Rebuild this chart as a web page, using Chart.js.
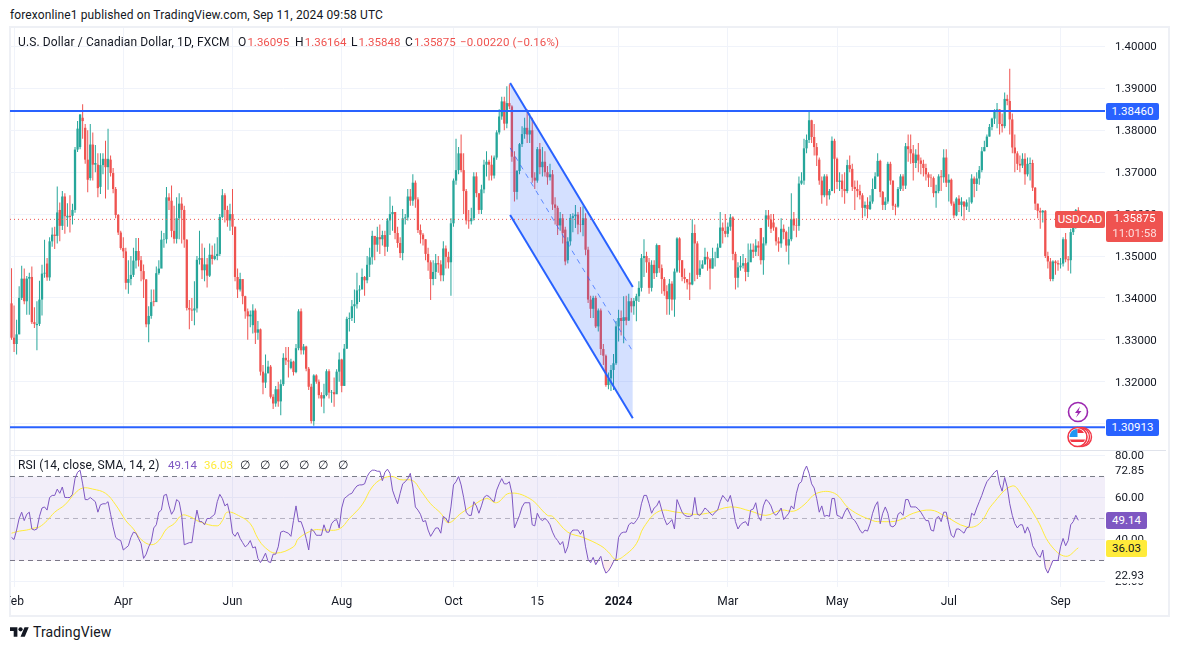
<!DOCTYPE html>
<html>
<head>
<meta charset="utf-8">
<title>USDCAD 1D</title>
<script src="https://cdn.jsdelivr.net/npm/chart.js@4/dist/chart.umd.min.js"></script>
<style>
  html, body { margin: 0; padding: 0; background: #fff; }
  body { width: 1177px; height: 650px; position: relative; overflow: hidden; font-family: Roboto, sans-serif; font-size: 12px; color: #131722; }
  canvas { position: absolute; left: 10px; }
  #priceChart { top: 28px; }
  #rsiChart { top: 451px; }
  .txt { position: absolute; white-space: nowrap; line-height: 14px; letter-spacing: 0.12px; }
  .num { font-size: 11.5px; letter-spacing: 0; }
  .red { color: #ef5350; }
  .ohlc { margin-left: 1px; }
  .tag { position: absolute; text-align: center; color: #fff; border-radius: 2px; line-height: 17px; font-size: 11.5px; }
  #frame { position: absolute; left: 9px; top: 26px; width: 1157px; height: 587px; border: 2px solid #eef0f5; }
  #divider { position: absolute; left: 10px; top: 450px; width: 1156px; height: 1px; background: #e0e3eb; }
  #axisMask { position: absolute; left: 1106px; top: 586px; width: 58px; height: 5px; background: #fff; }
  svg { position: absolute; }
</style>
</head>
<body>
<div id="frame"></div>
<canvas id="priceChart" width="1158" height="422"></canvas>
<canvas id="rsiChart" width="1158" height="162"></canvas>
<div id="divider"></div>
<div id="axisMask"></div>

<div class="txt" style="left:10px;top:8px">forexonline1 published on TradingView.com, Sep 11, 2024 09:58 UTC</div>
<div class="txt" style="left:18px;top:35px">U.S. Dollar / Canadian Dollar, 1D, FXCM</div>
<div class="txt" style="left:238px;top:35px">O<span class="red num ohlc">1.36095</span></div>
<div class="txt" style="left:295px;top:35px">H<span class="red num ohlc">1.36164</span></div>
<div class="txt" style="left:351px;top:35px">L<span class="red num ohlc">1.35848</span></div>
<div class="txt" style="left:405px;top:35px">C<span class="red num ohlc">1.35875</span></div>
<div class="txt red num" style="left:460px;top:35px;letter-spacing:.15px">−0.00220 (−0.16%)</div>

<div class="txt" style="left:18px;top:458px">RSI (14, close, SMA, 14, 2)</div>
<div class="txt num" style="left:168px;top:458px;color:#7e57c2">49.14</div>
<div class="txt num" style="left:204px;top:458px;color:#ffeb3b">36.03</div>
<div class="txt" style="left:240px;top:458px">∅</div>
<div class="txt" style="left:260px;top:458px">∅</div>
<div class="txt" style="left:279px;top:458px">∅</div>
<div class="txt" style="left:299px;top:458px">∅</div>
<div class="txt" style="left:318px;top:458px">∅</div>
<div class="txt" style="left:338px;top:458px">∅</div>

<div class="tag" style="left:1106px;top:103px;width:53px;background:#2962ff">1.38460</div>
<div class="tag" style="left:1106px;top:419px;width:53px;background:#2962ff">1.30913</div>
<div class="tag" style="left:1055px;top:211px;width:50px;background:#ef5350">USDCAD</div>
<div class="tag" style="left:1106px;top:211px;width:57px;height:31px;background:#ef5350;line-height:15px">1.35875<br><span style="color:rgba(255,255,255,.8)">11:01:58</span></div>
<div class="tag" style="left:1106px;top:512px;width:41px;background:#7e57c2">49.14</div>
<div class="tag" style="left:1106px;top:540px;width:41px;background:#ffeb3b;color:#131722">36.03</div>

<!-- event markers on the price pane -->
<svg style="left:1066px;top:400px" width="24" height="24" viewBox="0 0 24 24">
  <circle cx="12" cy="12" r="9.5" fill="#fff" stroke="#9c27b0" stroke-width="1.6"/>
  <path d="M14 6.5 L9 13 h3 l-2 4.5 L15.5 11 h-3 z" fill="#9c27b0"/>
</svg>
<svg style="left:1066px;top:425px" width="28" height="24" viewBox="0 0 28 24">
  <circle cx="16" cy="12" r="9.5" fill="#fff" stroke="#f23645" stroke-width="1.4"/>
  <circle cx="14" cy="12" r="9.5" fill="#fff" stroke="#f23645" stroke-width="1.4"/>
  <circle cx="11.5" cy="12" r="9.5" fill="#fff" stroke="#f23645" stroke-width="1.6"/>
  <path d="M4.5 8 A8 8 0 0 1 11.5 4 V12 H3.5 A8 8 0 0 1 4.5 8z" fill="#2196f3"/>
  <path d="M11.5 4 A8 8 0 0 1 18 8 H11.5z M3.8 14.5 H19.2 A8 8 0 0 1 17.5 17 H5.5 A8 8 0 0 1 3.8 14.5z" fill="#f23645"/>
</svg>

<!-- TradingView mark -->
<svg style="left:10px;top:627px" width="19" height="10" viewBox="0 4 36 18">
  <path d="M14 22H7V11H0V4h14v18zM28 22h-8l7.5-18h8L28 22z" fill="#131722"/>
  <circle cx="20" cy="8" r="4" fill="#131722"/>
</svg>
<div class="txt" style="left:33px;top:625px;font-size:14px">TradingView</div>

<script>
// ----------- PRICE DATA (one entry per daily bar) -----------
const opens = [
1.3387,1.3305,1.3290,1.3313,1.3400,1.3446,1.3392,1.3446,1.3450,1.3342,
1.3335,1.3338,1.3396,1.3458,1.3482,1.3449,1.3535,1.3551,1.3548,1.3610,
1.3572,1.3642,1.3592,1.3596,1.3596,1.3610,1.3754,1.3760,1.3830,1.3806,
1.3730,1.3686,1.3766,1.3718,1.3718,1.3665,1.3717,1.3732,1.3712,1.3730,
1.3698,1.3660,1.3598,1.3556,1.3519,1.3511,1.3436,1.3445,1.3455,1.3489,
1.3512,1.3490,1.3464,1.3444,1.3337,1.3357,1.3392,1.3390,1.3459,1.3470,
1.3539,1.3540,1.3640,1.3632,1.3560,1.3541,1.3590,1.3625,1.3610,1.3539,
1.3376,1.3372,1.3370,1.3375,1.3491,1.3495,1.3466,1.3480,1.3453,1.3503,
1.3493,1.3500,1.3505,1.3593,1.3645,1.3610,1.3585,1.3600,1.3570,1.3450,
1.3420,1.3445,1.3404,1.3368,1.3356,1.3335,1.3370,1.3317,1.3325,1.3224,
1.3198,1.3220,1.3236,1.3164,1.3148,1.3182,1.3153,1.3194,1.3257,1.3251,
1.3233,1.3248,1.3223,1.3280,1.3368,1.3275,1.3284,1.3231,1.3188,1.3106,
1.3215,1.3200,1.3168,1.3160,1.3168,1.3225,1.3174,1.3175,1.3170,1.3224,
1.3253,1.3190,1.3279,1.3350,1.3352,1.3380,1.3385,1.3418,1.3420,1.3450,
1.3442,1.3479,1.3497,1.3548,1.3527,1.3545,1.3540,1.3550,1.3522,1.3585,
1.3600,1.3605,1.3555,1.3531,1.3507,1.3590,1.3592,1.3642,1.3632,1.3675,
1.3635,1.3562,1.3551,1.3540,1.3505,1.3485,1.3445,1.3462,1.3483,1.3480,
1.3454,1.3518,1.3498,1.3485,1.3578,1.3680,1.3705,1.3745,1.3705,1.3655,
1.3585,1.3583,1.3590,1.3690,1.3650,1.3610,1.3659,1.3718,1.3725,1.3718,
1.3692,1.3735,1.3795,1.3833,1.3869,1.3816,1.3865,1.3857,1.3737,1.3653,
1.3703,1.3767,1.3791,1.3806,1.3790,1.3800,1.3687,1.3680,1.3755,1.3712,
1.3725,1.3700,1.3688,1.3695,1.3623,1.3615,1.3573,1.3590,1.3563,1.3490,
1.3535,1.3591,1.3595,1.3599,1.3575,1.3574,1.3590,1.3515,1.3396,1.3374,
1.3400,1.3332,1.3370,1.3278,1.3262,1.3192,1.3208,1.3228,1.3244,1.3332,
1.3352,1.3345,1.3354,1.3346,1.3392,1.3380,1.3393,1.3404,1.3424,1.3495,
1.3500,1.3485,1.3424,1.3479,1.3459,1.3526,1.3471,1.3445,1.3416,1.3397,
1.3434,1.3396,1.3463,1.3542,1.3490,1.3450,1.3445,1.3437,1.3432,1.3555,
1.3530,1.3455,1.3470,1.3480,1.3498,1.3492,1.3470,1.3495,1.3495,1.3520,
1.3568,1.3560,1.3553,1.3570,1.3592,1.3505,1.3448,1.3473,1.3477,1.3483,
1.3462,1.3485,1.3515,1.3510,1.3525,1.3567,1.3490,1.3530,1.3597,1.3587,
1.3580,1.3568,1.3535,1.3530,1.3565,1.3557,1.3525,1.3540,1.3589,1.3573,
1.3572,1.3673,1.3680,1.3757,1.3777,1.3824,1.3784,1.3760,1.3730,1.3680,
1.3645,1.3690,1.3645,1.3655,1.3775,1.3732,1.3677,1.3680,1.3660,1.3655,
1.3717,1.3708,1.3665,1.3660,1.3655,1.3645,1.3615,1.3622,1.3612,1.3630,
1.3660,1.3690,1.3727,1.3653,1.3622,1.3630,1.3720,1.3680,1.3620,1.3618,
1.3660,1.3690,1.3668,1.3762,1.3755,1.3745,1.3722,1.3742,1.3728,1.3720,
1.3710,1.3695,1.3687,1.3686,1.3650,1.3655,1.3690,1.3688,1.3735,1.3675,
1.3682,1.3625,1.3597,1.3637,1.3622,1.3630,1.3618,1.3628,1.3628,1.3685,
1.3672,1.3685,1.3705,1.3750,1.3760,1.3785,1.3808,1.3828,1.3845,1.3850,
1.3815,1.3810,1.3875,1.3870,1.3826,1.3759,1.3745,1.3720,1.3716,1.3732,
1.3695,1.3720,1.3722,1.3663,1.3625,1.3608,1.3604,1.3608,1.3500,1.3487,
1.3445,1.3487,1.3483,1.3480,1.3482,1.3540,1.3492,1.3490,1.3557,1.3570,
1.36095];
const highs = [
1.3471,1.3382,1.3348,1.3428,1.3477,1.3470,1.3452,1.3460,1.3475,1.3378,
1.3392,1.3441,1.3479,1.3539,1.3495,1.3545,1.3568,1.3570,1.3666,1.3628,
1.3655,1.3650,1.3626,1.3645,1.3625,1.3760,1.3822,1.3838,1.3862,1.3815,
1.3800,1.3815,1.3795,1.3765,1.3745,1.3745,1.3745,1.3775,1.3804,1.3740,
1.3710,1.3665,1.3600,1.3560,1.3545,1.3520,1.3490,1.3500,1.3520,1.3543,
1.3543,1.3500,1.3480,1.3445,1.3380,1.3420,1.3420,1.3475,1.3490,1.3560,
1.3555,1.3665,1.3650,1.3668,1.3620,1.3640,1.3650,1.3640,1.3620,1.3540,
1.3395,1.3400,1.3440,1.3500,1.3560,1.3530,1.3520,1.3495,1.3530,1.3525,
1.3530,1.3545,1.3600,1.3660,1.3650,1.3620,1.3625,1.3660,1.3570,1.3470,
1.3460,1.3430,1.3405,1.3375,1.3370,1.3385,1.3375,1.3345,1.3327,1.3240,
1.3265,1.3250,1.3240,1.3170,1.3190,1.3200,1.3205,1.3268,1.3283,1.3283,
1.3255,1.3250,1.3290,1.3373,1.3375,1.3290,1.3286,1.3235,1.3195,1.3218,
1.3218,1.3205,1.3175,1.3195,1.3230,1.3230,1.3180,1.3210,1.3230,1.3270,
1.3255,1.3290,1.3355,1.3365,1.3395,1.3420,1.3460,1.3430,1.3470,1.3452,
1.3500,1.3520,1.3560,1.3548,1.3570,1.3575,1.3560,1.3560,1.3590,1.3642,
1.3620,1.3605,1.3570,1.3545,1.3612,1.3600,1.3660,1.3660,1.3695,1.3680,
1.3640,1.3575,1.3555,1.3540,1.3520,1.3490,1.3490,1.3505,1.3500,1.3490,
1.3535,1.3525,1.3510,1.3590,1.3685,1.3780,1.3760,1.3790,1.3745,1.3660,
1.3610,1.3615,1.3700,1.3700,1.3640,1.3670,1.3730,1.3750,1.3730,1.3740,
1.3740,1.3800,1.3850,1.3880,1.3880,1.3905,1.3910,1.3860,1.3750,1.3705,
1.3770,1.3810,1.3830,1.3850,1.3840,1.3830,1.3700,1.3760,1.3770,1.3760,
1.3750,1.3715,1.3720,1.3705,1.3640,1.3620,1.3605,1.3600,1.3570,1.3545,
1.3600,1.3602,1.3622,1.3605,1.3617,1.3619,1.3602,1.3522,1.3405,1.3405,
1.3405,1.3375,1.3375,1.3290,1.3265,1.3222,1.3240,1.3266,1.3345,1.3372,
1.3370,1.3404,1.3405,1.3410,1.3400,1.3400,1.3410,1.3440,1.3505,1.3540,
1.3510,1.3495,1.3490,1.3490,1.3530,1.3526,1.3480,1.3450,1.3430,1.3445,
1.3440,1.3470,1.3545,1.3545,1.3490,1.3470,1.3445,1.3460,1.3588,1.3575,
1.3535,1.3490,1.3490,1.3520,1.3510,1.3495,1.3520,1.3510,1.3530,1.3605,
1.3580,1.3600,1.3580,1.3600,1.3595,1.3510,1.3485,1.3500,1.3505,1.3495,
1.3530,1.3530,1.3530,1.3540,1.3535,1.3567,1.3545,1.3610,1.3610,1.3600,
1.3600,1.3570,1.3545,1.3590,1.3575,1.3560,1.3570,1.3650,1.3605,1.3590,
1.3690,1.3700,1.3780,1.3790,1.3846,1.3825,1.3815,1.3770,1.3735,1.3690,
1.3695,1.3695,1.3660,1.3785,1.3780,1.3735,1.3700,1.3695,1.3700,1.3730,
1.3740,1.3720,1.3680,1.3680,1.3670,1.3650,1.3630,1.3640,1.3645,1.3685,
1.3700,1.3745,1.3730,1.3655,1.3640,1.3725,1.3725,1.3680,1.3625,1.3665,
1.3695,1.3695,1.3770,1.3790,1.3790,1.3765,1.3755,1.3770,1.3735,1.3730,
1.3720,1.3700,1.3695,1.3690,1.3670,1.3695,1.3705,1.3755,1.3755,1.3695,
1.3685,1.3630,1.3640,1.3645,1.3640,1.3630,1.3635,1.3640,1.3695,1.3690,
1.3700,1.3715,1.3760,1.3775,1.3790,1.3815,1.3830,1.3850,1.3865,1.3850,
1.3840,1.3890,1.3885,1.3947,1.3840,1.3790,1.3750,1.3740,1.3745,1.3745,
1.3735,1.3735,1.3730,1.3665,1.3625,1.3615,1.3610,1.3610,1.3510,1.3495,
1.3490,1.3490,1.3490,1.3495,1.3545,1.3555,1.3500,1.3565,1.3600,1.3612,
1.36164];
const lows = [
1.3300,1.3271,1.3265,1.3313,1.3395,1.3385,1.3360,1.3360,1.3338,1.3328,
1.3275,1.3333,1.3358,1.3448,1.3441,1.3441,1.3522,1.3517,1.3530,1.3535,
1.3562,1.3553,1.3570,1.3556,1.3575,1.3603,1.3748,1.3755,1.3780,1.3720,
1.3652,1.3680,1.3680,1.3700,1.3640,1.3648,1.3695,1.3637,1.3658,1.3690,
1.3650,1.3590,1.3550,1.3515,1.3495,1.3420,1.3410,1.3430,1.3450,1.3470,
1.3475,1.3440,1.3400,1.3330,1.3294,1.3350,1.3380,1.3390,1.3455,1.3480,
1.3520,1.3530,1.3610,1.3545,1.3530,1.3530,1.3540,1.3530,1.3520,1.3370,
1.3325,1.3345,1.3335,1.3365,1.3480,1.3445,1.3440,1.3425,1.3450,1.3480,
1.3490,1.3490,1.3500,1.3590,1.3580,1.3570,1.3560,1.3550,1.3440,1.3400,
1.3415,1.3385,1.3350,1.3300,1.3330,1.3315,1.3290,1.3300,1.3215,1.3170,
1.3185,1.3220,1.3160,1.3135,1.3140,1.3140,1.3120,1.3190,1.3240,1.3210,
1.3230,1.3215,1.3220,1.3275,1.3265,1.3265,1.3225,1.3180,1.3100,1.3095,
1.3195,1.3160,1.3140,1.3125,1.3165,1.3160,1.3150,1.3140,1.3175,1.3200,
1.3175,1.3190,1.3278,1.3320,1.3345,1.3340,1.3375,1.3390,1.3425,1.3405,
1.3435,1.3450,1.3480,1.3490,1.3510,1.3505,1.3525,1.3500,1.3510,1.3550,
1.3560,1.3540,1.3520,1.3495,1.3490,1.3575,1.3585,1.3620,1.3620,1.3615,
1.3555,1.3530,1.3525,1.3490,1.3465,1.3395,1.3430,1.3445,1.3460,1.3440,
1.3440,1.3470,1.3470,1.3405,1.3570,1.3670,1.3695,1.3700,1.3600,1.3575,
1.3565,1.3575,1.3585,1.3640,1.3600,1.3600,1.3650,1.3690,1.3680,1.3680,
1.3685,1.3730,1.3790,1.3825,1.3800,1.3805,1.3850,1.3725,1.3630,1.3635,
1.3695,1.3760,1.3780,1.3770,1.3770,1.3675,1.3660,1.3675,1.3695,1.3690,
1.3690,1.3670,1.3680,1.3610,1.3575,1.3550,1.3560,1.3530,1.3478,1.3482,
1.3525,1.3557,1.3567,1.3552,1.3557,1.3547,1.3502,1.3388,1.3352,1.3352,
1.3328,1.3320,1.3264,1.3240,1.3188,1.3182,1.3178,1.3180,1.3240,1.3296,
1.3310,1.3292,1.3335,1.3345,1.3365,1.3360,1.3344,1.3390,1.3415,1.3450,
1.3460,1.3410,1.3415,1.3445,1.3450,1.3460,1.3410,1.3405,1.3360,1.3360,
1.3370,1.3355,1.3460,1.3460,1.3440,1.3435,1.3420,1.3395,1.3430,1.3440,
1.3445,1.3450,1.3470,1.3480,1.3465,1.3420,1.3470,1.3475,1.3505,1.3520,
1.3530,1.3545,1.3545,1.3560,1.3490,1.3420,1.3425,1.3465,1.3470,1.3440,
1.3450,1.3490,1.3495,1.3500,1.3500,1.3480,1.3455,1.3525,1.3570,1.3555,
1.3560,1.3525,1.3510,1.3520,1.3540,1.3510,1.3480,1.3535,1.3560,1.3545,
1.3560,1.3670,1.3670,1.3745,1.3770,1.3770,1.3740,1.3715,1.3670,1.3625,
1.3640,1.3620,1.3635,1.3655,1.3650,1.3660,1.3655,1.3640,1.3625,1.3650,
1.3700,1.3655,1.3610,1.3640,1.3635,1.3590,1.3595,1.3590,1.3610,1.3625,
1.3660,1.3690,1.3640,1.3610,1.3610,1.3625,1.3670,1.3610,1.3597,1.3615,
1.3655,1.3655,1.3660,1.3725,1.3720,1.3680,1.3710,1.3700,1.3695,1.3690,
1.3680,1.3665,1.3665,1.3640,1.3615,1.3650,1.3655,1.3675,1.3665,1.3630,
1.3620,1.3590,1.3595,1.3605,1.3595,1.3585,1.3610,1.3605,1.3625,1.3640,
1.3655,1.3670,1.3700,1.3750,1.3760,1.3785,1.3800,1.3815,1.3805,1.3790,
1.3795,1.3805,1.3860,1.3790,1.3745,1.3700,1.3705,1.3700,1.3710,1.3670,
1.3690,1.3680,1.3655,1.3610,1.3590,1.3565,1.3580,1.3495,1.3470,1.3440,
1.3440,1.3455,1.3465,1.3470,1.3475,1.3485,1.3465,1.3458,1.3550,1.3565,
1.35848];
const closes = [
1.3305,1.3290,1.3313,1.3400,1.3446,1.3392,1.3446,1.3450,1.3342,1.3338,
1.3338,1.3396,1.3458,1.3460,1.3449,1.3535,1.3551,1.3548,1.3604,1.3572,
1.3642,1.3595,1.3596,1.3593,1.3610,1.3754,1.3804,1.3838,1.3822,1.3730,
1.3682,1.3766,1.3718,1.3722,1.3662,1.3717,1.3732,1.3712,1.3732,1.3698,
1.3660,1.3598,1.3556,1.3519,1.3511,1.3436,1.3445,1.3455,1.3489,1.3512,
1.3490,1.3464,1.3444,1.3337,1.3357,1.3390,1.3390,1.3459,1.3470,1.3539,
1.3540,1.3640,1.3632,1.3560,1.3541,1.3590,1.3625,1.3610,1.3539,1.3376,
1.3372,1.3370,1.3375,1.3491,1.3495,1.3466,1.3480,1.3453,1.3503,1.3493,
1.3500,1.3505,1.3593,1.3645,1.3610,1.3585,1.3600,1.3570,1.3450,1.3420,
1.3445,1.3404,1.3368,1.3356,1.3360,1.3370,1.3317,1.3325,1.3224,1.3198,
1.3220,1.3236,1.3164,1.3148,1.3182,1.3153,1.3194,1.3257,1.3251,1.3248,
1.3248,1.3223,1.3280,1.3368,1.3275,1.3284,1.3231,1.3188,1.3106,1.3215,
1.3200,1.3168,1.3160,1.3168,1.3225,1.3174,1.3175,1.3170,1.3224,1.3253,
1.3190,1.3279,1.3350,1.3352,1.3380,1.3385,1.3418,1.3420,1.3450,1.3442,
1.3479,1.3497,1.3548,1.3527,1.3545,1.3540,1.3550,1.3522,1.3585,1.3600,
1.3605,1.3555,1.3531,1.3507,1.3590,1.3592,1.3642,1.3632,1.3675,1.3635,
1.3562,1.3551,1.3540,1.3505,1.3485,1.3445,1.3462,1.3483,1.3480,1.3454,
1.3518,1.3498,1.3485,1.3578,1.3680,1.3705,1.3745,1.3705,1.3655,1.3585,
1.3583,1.3590,1.3690,1.3650,1.3610,1.3659,1.3718,1.3725,1.3718,1.3692,
1.3735,1.3795,1.3833,1.3869,1.3816,1.3865,1.3857,1.3737,1.3653,1.3703,
1.3767,1.3791,1.3806,1.3790,1.3800,1.3687,1.3680,1.3755,1.3712,1.3725,
1.3700,1.3688,1.3695,1.3623,1.3615,1.3573,1.3590,1.3555,1.3487,1.3535,
1.3591,1.3595,1.3599,1.3575,1.3574,1.3590,1.3515,1.3396,1.3374,1.3400,
1.3332,1.3370,1.3278,1.3262,1.3192,1.3208,1.3228,1.3244,1.3332,1.3352,
1.3345,1.3354,1.3346,1.3392,1.3380,1.3393,1.3404,1.3424,1.3495,1.3500,
1.3485,1.3424,1.3479,1.3459,1.3526,1.3471,1.3445,1.3416,1.3397,1.3434,
1.3396,1.3463,1.3542,1.3490,1.3450,1.3445,1.3437,1.3432,1.3555,1.3530,
1.3455,1.3470,1.3480,1.3498,1.3492,1.3470,1.3495,1.3495,1.3520,1.3568,
1.3560,1.3553,1.3570,1.3592,1.3505,1.3448,1.3473,1.3477,1.3483,1.3462,
1.3485,1.3515,1.3510,1.3525,1.3520,1.3490,1.3530,1.3597,1.3587,1.3565,
1.3568,1.3535,1.3530,1.3565,1.3557,1.3525,1.3540,1.3587,1.3573,1.3572,
1.3673,1.3680,1.3757,1.3777,1.3824,1.3784,1.3760,1.3740,1.3680,1.3645,
1.3690,1.3645,1.3655,1.3775,1.3732,1.3677,1.3680,1.3660,1.3655,1.3717,
1.3708,1.3665,1.3660,1.3655,1.3645,1.3615,1.3622,1.3612,1.3630,1.3660,
1.3690,1.3727,1.3653,1.3622,1.3630,1.3720,1.3680,1.3620,1.3618,1.3660,
1.3690,1.3668,1.3762,1.3755,1.3745,1.3722,1.3742,1.3728,1.3720,1.3710,
1.3695,1.3687,1.3686,1.3650,1.3655,1.3690,1.3688,1.3735,1.3675,1.3682,
1.3625,1.3597,1.3637,1.3622,1.3630,1.3618,1.3628,1.3628,1.3685,1.3672,
1.3685,1.3705,1.3750,1.3760,1.3785,1.3808,1.3828,1.3845,1.3850,1.3815,
1.3810,1.3875,1.3870,1.3826,1.3759,1.3745,1.3720,1.3716,1.3732,1.3695,
1.3720,1.3722,1.3663,1.3625,1.3608,1.3604,1.3608,1.3500,1.3487,1.3445,
1.3487,1.3483,1.3480,1.3482,1.3540,1.3492,1.3490,1.3557,1.3570,1.36095,
1.35875];

// ----------- RSI DATA -----------
const rsiValues = [
41,40,44.5,50,53,49,52,53,45,44.5,
45,51,55,55.5,54,60,61,61,64,62,
65,60,60,60,61.5,69,72,73,66.5,59,
59,60,59,58,53,56.5,57,57,58,52,
46,41,40,39.5,35,36,37,41,43.5,43,
40.5,38,31,33,36.5,39,45.5,47,53,54,
61,61.5,56,52,54,59,58,51.5,37.5,38,
38.5,38.5,47,54,48.5,48.5,47,50,50,51,
52,58,61.5,59.5,56,57,52,43,41.5,43.5,
40.5,38.5,36.5,37.5,39.5,36,36.5,31,29,31,
33.5,29.5,29,33,33,36.5,43.5,44,43.5,43,
41.5,49,56,48.5,48.5,45,40.5,35,45,44,
42,42,42,47,43.5,43.5,47.5,49,49.5,45.5,
55,59.5,60.5,61.5,62,64,65.5,66,66,66.5,
70,72,73,73,72.5,72.5,68,72,73.5,71.5,
63.5,60,57,62,66.5,67.5,69,71.5,65,55.5,
54,52,48.5,49,44.5,41.5,43.5,45.5,45.5,43,
51,50,48,55.5,66,67.5,70,66,60,53,
51.5,51.5,58,56,52.5,56,60,61,60.5,59,
58,63.5,66.5,69,66.5,66.5,67.5,62,45.5,48.5,
51.5,55.5,57.5,57.5,57.5,47,46.5,52.5,50,49,
50,49,47,43.5,41,39.5,37.5,39,33.5,36.5,
43,44.5,44.5,44.5,42.5,44.5,36.5,30.5,29,31.5,
28,30,32,27,24,25,27,29.5,31,41,
43,43.5,43.5,47,48,47.5,49,51,57,61,
61,57,52.5,55,56,58.5,54,50,47,48,
49.5,45,59,56,53,51.5,51,51,51.5,60,
52,51.5,53,55,54,52.5,51.5,53,54,58,
61,59.5,58,61,55.5,48.5,45,47,48,48.5,
46.5,54,54.5,57.5,51,49,56,59,58,56,
52.5,51.5,53,55,49.5,51,52.5,56,54.5,62,
66.5,67.5,72.5,75,71.5,66.5,64.5,59.5,53,56,
51,51.5,51,59.5,59.5,51.5,51,50,53,55,
52.5,50,49,47,44.5,43,44.5,44,47.5,52.5,
56,58,47.5,52.5,55.5,52.5,46.5,46,47,52,
53,51.5,59,59,55.5,55.5,55.5,54.5,53,51,
49,49,44.5,44,50,51,48.5,53,53,47,
42,41,45,45,44,43,45.5,46,52.5,51.5,
55,58,61,64.5,67.5,69,70.5,72,73,66.5,
63,69.5,65,57,51.5,47.5,45.5,47,47,43,
46,43,37,35,32.5,31.5,35,26.5,24,27,
30,30,30,36.5,40.5,37,39.5,47,48.5,51.5,
49.14];
const rsiMaBars = [0,3,6,9,11,14,17,21,25,28,32,37,41,45,48,51,55,58,61,64,67,70,74,81,83,85,90,94,97,100,104,111,113,119,123,129,133,138,142,146,150,153,158,161,165,169,172,177,182,187,191,196,204,211,213,219,225,232,235,238,242,246,249,255,262,268,274,283,291,297,303,308,312,317,324,330,339,343,349,355,362,367,376,381,386,394,398,404,409,415,420];
const rsiMaValues = [43,44,44.5,45.5,46,49,53,56.5,62,64.5,64,62,56.5,49,45,40,37.5,39.5,45,47.5,51.5,51,48.5,46.5,49,53,51,47.5,40.5,36,33.5,36.5,40.5,44.5,44.5,45,50,56.5,65,69,70,68.5,68,63.5,57,52.5,48,52.5,56.5,59.5,57.5,62,59.5,51.5,51,43.5,41,37,34,30.5,33,38,46,53.5,53,52,52.5,55.5,53.5,51.5,54,53.5,56.5,62,62,54.5,49,48.5,49,52.5,54,51.5,46,47.5,56.5,65.5,60.5,49,37.5,32,36.03];

// ----------- LEVELS AND AXES -----------
const resistance = 1.3846;
const support = 1.30913;
const lastPrice = 1.35875;
const channelBars = [196.3, 244.6];
const channelTop = [1.3913, 1.3426];
const channelMid = [1.3758, 1.3272];
const channelBottom = [1.3598, 1.3113];
const priceTicks = [1.40, 1.39, 1.38, 1.37, 1.36, 1.35, 1.34, 1.33, 1.32, 1.31];
const rsiTicks = [20, 22.93, 40, 60, 72.85, 80];
const rsiGridless = [22.93, 72.85];
const timeBars = [1, 44, 87, 130, 174, 207, 239, 282, 325, 369, 413];
const timeLabels = ['Feb', 'Apr', 'Jun', 'Aug', 'Oct', '15', '2024', 'Mar', 'May', 'Jul', 'Sep'];
const xMin = -0.6;
const xMax = 430.5;

const UP = '#26a69a';
const DOWN = '#ef5350';
const BLUE = '#2962ff';
const GRID = '#f0f3fa';
const FONT = 'Roboto, sans-serif';

const candleColor = ctx => (closes[ctx.dataIndex] >= opens[ctx.dataIndex] ? UP : DOWN);
const flatLine = (value, extra) => ({
  type: 'line',
  data: [{ x: xMin, y: value }, { x: xMax, y: value }],
  pointRadius: 0,
  ...extra,
});

function xAxis(showLabels) {
  return {
    type: 'linear',
    min: xMin,
    max: xMax,
    offset: false,
    border: { display: false },
    grid: { color: GRID, drawTicks: false, offset: false },
    afterBuildTicks(scale) { scale.ticks = timeBars.map(value => ({ value })); },
    afterFit(scale) {
      scale.paddingLeft = 0;
      scale.paddingRight = 0;
      scale.height = showLabels ? 26 : 0;
    },
    ticks: {
      display: showLabels,
      autoSkip: false,
      maxRotation: 0,
      padding: 8,
      color: '#131722',
      font: ctx => ({ family: FONT, size: 12, weight: ctx.tick && ctx.tick.value === 239 ? 'bold' : 'normal' }),
      callback: value => timeLabels[timeBars.indexOf(value)],
    },
  };
}

function yAxis(min, max, tickValues, format, gridColor) {
  return {
    position: 'right',
    min,
    max,
    border: { display: false },
    grid: { color: gridColor, drawTicks: false },
    afterBuildTicks(scale) { scale.ticks = tickValues.map(value => ({ value })); },
    afterFit(scale) {
      scale.width = 63;
      scale.paddingTop = 0;
      scale.paddingBottom = 0;
    },
    ticks: {
      autoSkip: false,
      padding: 10,
      labelOffset: 1,
      color: '#131722',
      crossAlign: 'near',
      font: { family: FONT, size: 11.5 },
      callback: format,
      showLabelBackdrop: true,
      backdropColor: '#fff',
      backdropPadding: 0,
    },
  };
}

const commonOptions = {
  responsive: false,
  animation: false,
  events: [],
  layout: { padding: 0 },
  plugins: { legend: { display: false }, tooltip: { enabled: false } },
};

// ----------- PRICE PANE -----------
new Chart(document.getElementById('priceChart'), {
  type: 'bar',
  data: {
    datasets: [
      flatLine(lastPrice, { borderColor: DOWN, borderWidth: 1, borderDash: [1, 3], order: 0 }),
      flatLine(resistance, { borderColor: BLUE, borderWidth: 2, order: 0 }),
      flatLine(support, { borderColor: BLUE, borderWidth: 2, order: 0 }),
      {
        type: 'line',
        data: channelBars.map((x, i) => ({ x, y: channelTop[i] })),
        borderColor: BLUE,
        borderWidth: 2,
        pointRadius: 0,
        fill: '+1',
        backgroundColor: 'rgba(41, 98, 255, 0.2)',
        order: 0,
      },
      {
        type: 'line',
        data: channelBars.map((x, i) => ({ x, y: channelBottom[i] })),
        borderColor: BLUE,
        borderWidth: 2,
        pointRadius: 0,
        order: 0,
      },
      {
        type: 'line',
        data: channelBars.map((x, i) => ({ x, y: channelMid[i] })),
        borderColor: 'rgba(41, 98, 255, 0.7)',
        borderWidth: 1,
        borderDash: [5, 5],
        pointRadius: 0,
        order: 0,
      },
      {
        data: closes.map((_, i) => ({ x: i, y: [Math.min(opens[i], closes[i]), Math.max(opens[i], closes[i])] })),
        backgroundColor: candleColor,
        barThickness: 2.3,
        grouped: false,
        inflateAmount: 0,
        order: 1,
      },
      {
        data: closes.map((_, i) => ({ x: i, y: [lows[i], highs[i]] })),
        backgroundColor: candleColor,
        barThickness: 1,
        grouped: false,
        inflateAmount: 0,
        order: 2,
      },
    ],
  },
  options: {
    ...commonOptions,
    scales: {
      x: xAxis(false),
      y: yAxis(1.3037, 1.40442, priceTicks, value => value.toFixed(5), GRID),
    },
  },
});

// ----------- RSI PANE -----------
new Chart(document.getElementById('rsiChart'), {
  type: 'line',
  data: {
    datasets: [
      flatLine(70, { borderColor: '#787b86', borderWidth: 1, borderDash: [5, 4], fill: '+1', backgroundColor: 'rgba(126, 87, 194, 0.1)', order: 3 }),
      flatLine(30, { borderColor: '#787b86', borderWidth: 1, borderDash: [5, 4], order: 3 }),
      flatLine(50, { borderColor: 'rgba(120, 123, 134, 0.5)', borderWidth: 1, borderDash: [5, 4], order: 3 }),
      {
        data: rsiMaBars.map((x, i) => ({ x, y: rsiMaValues[i] })),
        borderColor: '#ffeb3b',
        borderWidth: 1,
        pointRadius: 0,
        tension: 0.4,
        order: 2,
      },
      {
        data: rsiValues.map((y, x) => ({ x, y })),
        borderColor: '#7e57c2',
        borderWidth: 1,
        pointRadius: 0,
        fill: { target: { value: 30 }, above: 'transparent', below: 'rgba(239, 83, 80, 0.1)' },
        order: 1,
      },
    ],
  },
  options: {
    ...commonOptions,
    scales: {
      x: xAxis(true),
      y: yAxis(17.38, 82.14, rsiTicks, value => value.toFixed(2),
        ctx => (ctx.tick && rsiGridless.includes(ctx.tick.value) ? 'transparent' : GRID)),
    },
  },
});
</script>
</body>
</html>
